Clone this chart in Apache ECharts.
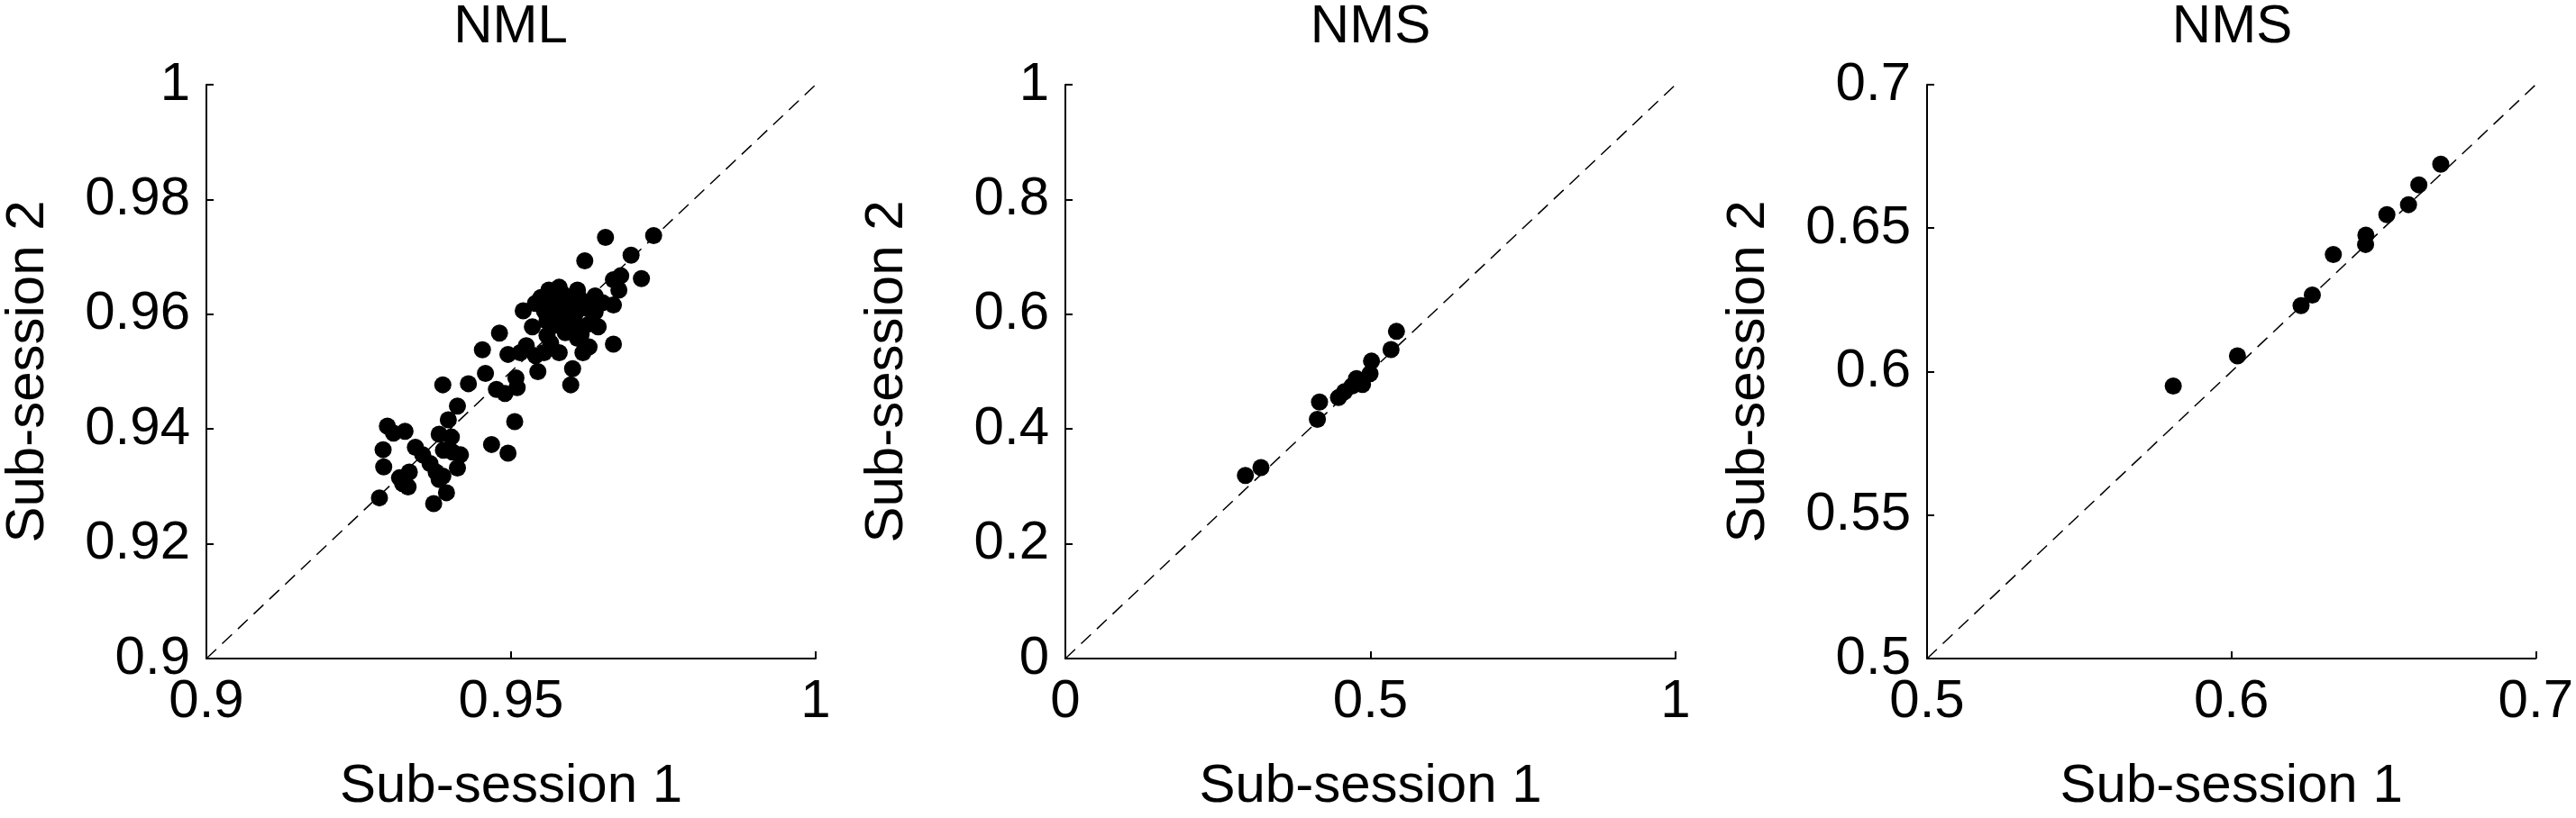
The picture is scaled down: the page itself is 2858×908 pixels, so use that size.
<!DOCTYPE html>
<html>
<head>
<meta charset="utf-8">
<script src="https://cdn.jsdelivr.net/npm/echarts@6/dist/echarts.min.js"></script>
<style>
html,body{margin:0;padding:0;background:#fff;}
#c{width:2858px;height:908px;}
</style>
</head>
<body>
<div id="c"></div>
<script>
// ---- data ----
const titles = ['NML', 'NMS', 'NMS'];
const xName = 'Sub-session 1';
const yName = 'Sub-session 2';

const axisMin = [0.9, 0, 0.5];
const axisMax = [1, 1, 0.7];
const xInterval = [0.05, 0.5, 0.1];
const yInterval = [0.02, 0.2, 0.05];

const nmlX = [0.9284,0.9373,0.9290,0.9291,0.9297,0.9307,0.9326,0.9317,0.9331,0.9333,0.9322,0.9343,0.9355,0.9367,0.9377,0.9382,0.9394,0.9388,0.9382,0.9402,0.9389,0.9404,0.9417,0.9412,0.9397,0.9412,0.9388,0.9430,0.9468,0.9495,0.9506,0.9458,0.9453,0.9476,0.9490,0.9510,0.9508,
  0.9734,0.9655,0.9621,0.9697,0.9714,0.9668,0.9680,0.9677,0.9668,0.9638,0.9668,0.9579,0.9562,0.9609,0.9520,0.9540,0.9549,0.9599,0.9623,0.9638,0.9535,0.9559,0.9579,0.9604,0.9628,0.9643,0.9559,0.9589,0.9609,0.9628,0.9618,0.9579,0.9601,0.9598,0.9481,0.9525,0.9495,0.9515,0.9540,0.9554,0.9544,
  0.9570,0.9585,0.9595,0.9570,0.9590,0.9605,0.9565,0.9615,0.9555,0.9575,0.9612,0.9650];
const nmlY = [0.9280,0.9270,0.9364,0.9334,0.9405,0.9393,0.9396,0.9315,0.9299,0.9325,0.9305,0.9368,0.9355,0.9340,0.9325,0.9312,0.9289,0.9318,0.9391,0.9386,0.9363,0.9360,0.9355,0.9332,0.9416,0.9440,0.9477,0.9479,0.9373,0.9358,0.9413,0.9497,0.9538,0.9469,0.9462,0.9472,0.9489,
  0.9737,0.9734,0.9693,0.9703,0.9662,0.9660,0.9667,0.9642,0.9616,0.9632,0.9548,0.9647,0.9642,0.9642,0.9606,0.9619,0.9629,0.9619,0.9611,0.9604,0.9578,0.9588,0.9594,0.9588,0.9583,0.9578,0.9563,0.9568,0.9558,0.9543,0.9533,0.9533,0.9505,0.9477,0.9567,0.9545,0.9530,0.9533,0.9528,0.9533,0.9500,
  0.9625,0.9635,0.9610,0.9580,0.9575,0.9600,0.9550,0.9565,0.9605,0.9612,0.9628,0.9620];

const nms1X = [0.295,0.3205,0.413,0.4165,0.4476,0.4574,0.4697,0.4771,0.487,0.4993,0.5017,0.5337,0.5426];
const nms1Y = [0.319,0.3328,0.4167,0.447,0.4547,0.4649,0.475,0.4878,0.4776,0.4964,0.5183,0.5386,0.5701];

const nms2X = [0.5809,0.6020,0.6229,0.6266,0.6335,0.6441,0.6442,0.6511,0.6582,0.6616,0.6688];
const nms2Y = [0.5950,0.6055,0.6230,0.6267,0.6408,0.6443,0.6476,0.6547,0.6582,0.6651,0.6723];

const panelsX = [nmlX, nms1X, nms2X];
const panelsY = [nmlY, nms1Y, nms2Y];

// ---- layout ----
const FONT = 'Liberation Sans, Arial, sans-serif';
const gridLeft = [228, 1182, 2138];
const gridW = 677, gridTop = 94, gridH = 656;

const grids = [], xAxes = [], yAxes = [], series = [], titleArr = [];
for (let i = 0; i < 3; i++) {
  grids.push({left: gridLeft[i], top: gridTop, width: gridW, height: gridH});
  titleArr.push({
    text: titles[i], left: gridLeft[i] + gridW / 2, top: 0, padding: 0,
    textAlign: 'center',
    textStyle: {fontFamily: FONT, fontSize: 60, fontWeight: 'normal', color: '#000'}
  });
  const common = {
    gridIndex: i, type: 'value', min: axisMin[i], max: axisMax[i],
    splitLine: {show: false},
    axisLine: {show: true, onZero: false, lineStyle: {color: '#000', width: 2}},
    axisTick: {show: true, inside: true, length: 8, lineStyle: {color: '#000', width: 2}},
    axisLabel: {fontFamily: FONT, fontSize: 60, color: '#000', margin: 18, showMinLabel: true, showMaxLabel: true},
    nameLocation: 'middle',
    nameTextStyle: {fontFamily: FONT, fontSize: 60, color: '#000'}
  };
  xAxes.push(Object.assign({}, common, {interval: xInterval[i], name: xName, nameGap: 112}));
  yAxes.push(Object.assign({}, common, {interval: yInterval[i], name: yName, nameGap: 168}));
  series.push({
    type: 'line', xAxisIndex: i, yAxisIndex: i, symbol: 'none', silent: true,
    lineStyle: {color: '#000', width: 1.5, type: [15, 9]},
    data: [[axisMin[i], axisMin[i]], [axisMax[i], axisMax[i]]],
    z: 1
  });
  series.push({
    type: 'scatter', xAxisIndex: i, yAxisIndex: i, symbol: 'circle', symbolSize: 19,
    itemStyle: {color: '#000', opacity: 1},
    data: panelsX[i].map((v, k) => [v, panelsY[i][k]]),
    z: 2
  });
}

const chart = echarts.init(document.getElementById('c'), null, {renderer: 'canvas'});
chart.setOption({
  animation: false,
  backgroundColor: '#fff',
  title: titleArr,
  grid: grids,
  xAxis: xAxes,
  yAxis: yAxes,
  series: series
});
</script>
</body>
</html>
